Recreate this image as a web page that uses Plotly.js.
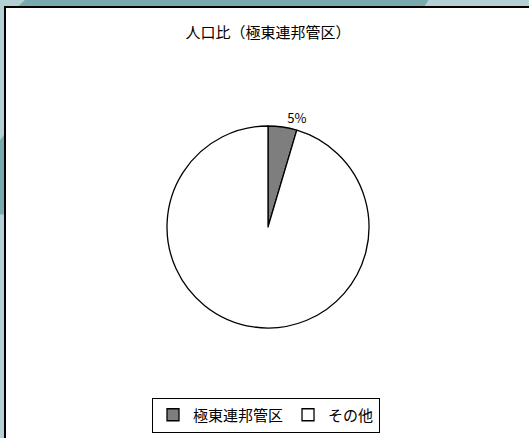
<!DOCTYPE html>
<html><head><meta charset="utf-8">
<script src="https://cdn.plot.ly/plotly-3.0.1.min.js"></script>
<style>html,body{margin:0;padding:0;background:#fff}#c{width:529px;height:438px}</style>
</head><body><div id="c"></div>
<script>
const labels = ["極東連邦管区", "その他"];
const values = [4.6, 95.4];
const titleText = "人口比（極東連邦管区）";
const font = "'Noto Sans CJK JP', 'Noto Sans', sans-serif";

const data = [{
  type: "pie",
  labels: labels,
  values: values,
  sort: false,
  direction: "clockwise",
  rotation: 0,
  textinfo: "percent",
  texttemplate: ["%{percent:.0%}", ""],
  textposition: ["outside", "none"],
  textfont: {family: font, size: 13, color: "#000"},
  hoverinfo: "label+percent",
  marker: {
    colors: ["#ffffff", "#ffffff"],
    line: {color: "#000", width: 1.3},
    pattern: {shape: [".", ""], fgcolor: "#333", bgcolor: "#b8b8b8", size: 2, solidity: 0.5}
  },
  domain: {x: [167/529, 369/529], y: [1 - 328/438, 1 - 126/438]},
  showlegend: true
}];

const layout = {
  width: 529, height: 438,
  margin: {l: 0, r: 0, t: 0, b: 0},
  paper_bgcolor: "#b4d0d4",
  plot_bgcolor: "#fff",
  font: {family: font, color: "#000"},
  title: {text: titleText, font: {family: font, size: 15, color: "#000"},
          x: 268/529, xanchor: "center", y: 1 - 33/438, yanchor: "middle", xref: "paper", yref: "paper"},
  showlegend: true,
  legend: {orientation: "h", x: 266/529, xanchor: "center", y: 1 - 415/438, yanchor: "middle",
           bordercolor: "#000", borderwidth: 1, bgcolor: "#fff",
           font: {family: font, size: 15, color: "#000"}, itemwidth: 30},
  shapes: [
    {type: "path", xref: "paper", yref: "paper", path: "M 0.047 1 L 0.81 1 L 0.80 0.98 L 0.03 0.98 Z", fillcolor: "#78a9ae", line: {width: 0}, layer: "below"},
    {type: "path", xref: "paper", yref: "paper", path: "M 0 0.68 L 0.012 0.70 L 0.012 0.51 L 0 0.51 Z", fillcolor: "#78a9ae", line: {width: 0}, layer: "below"},
    {type: "rect", xref: "paper", yref: "paper", x0: 5/529, x1: 1.01, y0: -0.01, y1: 1 - 7/438,
     fillcolor: "#fff", line: {color: "#000", width: 2}, layer: "below"}
  ]
};
Plotly.newPlot("c", data, layout, {staticPlot: true});
</script></body></html>
